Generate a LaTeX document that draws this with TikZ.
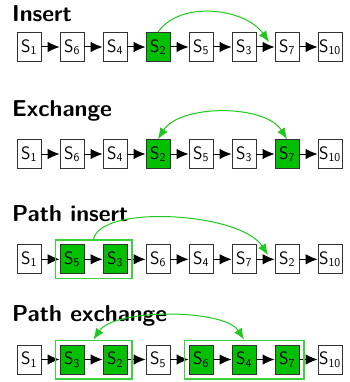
\documentclass[tikz,border=0pt]{standalone}
\usetikzlibrary{arrows.meta,fit}
\definecolor{selgreen}{RGB}{0,192,0}
\definecolor{framegreen}{RGB}{60,210,60}
\definecolor{arcgreen}{RGB}{30,200,30}
\definecolor{boxgray}{RGB}{50,50,50}
\begin{document}
\begin{tikzpicture}[x=1pt,y=1pt,
 sbox/.style={draw=boxgray, line width=0.8pt, minimum width=24pt, minimum height=29pt, inner sep=0pt, fill=white, font=\sffamily\fontsize{18}{18}\selectfont},
 sel/.style={sbox, fill=selgreen},
 link/.style={-{Latex[length=12pt,width=10.5pt]}, line width=1pt, black},
 move/.style={-{Latex[length=11pt,width=9pt]}, line width=1pt, arcgreen},
 swap/.style={{Latex[length=11pt,width=9pt]}-{Latex[length=11pt,width=9pt]}, line width=1pt, arcgreen},
 grp/.style={draw=framegreen, line width=1.2pt, inner sep=4.5pt},
 rowtitle/.style={anchor=base west, inner sep=0pt, font=\sffamily\bfseries\fontsize{23}{23}\selectfont}]
\useasboundingbox (0,0) rectangle (349,-382);

% titles
\node[rowtitle] (t1title) at (12,-21.7) {Insert};
\node[rowtitle] (t2title) at (12,-116.7) {Exchange};
\node[rowtitle] (t3title) at (12,-221.5) {Path insert};
\node[rowtitle] (t4title) at (12,-321.7) {Path exchange};

% row 1
\foreach \lab/\sty [count=\i from 0] in {1/sbox,6/sbox,4/sbox,2/sel,5/sbox,3/sbox,7/sbox,10/sbox}
  \node[\sty] (a\i) at (29+43*\i,-47) {S$_{\mathsf{\lab}}$};
% row 2
\foreach \lab/\sty [count=\i from 0] in {1/sbox,6/sbox,4/sbox,2/sel,5/sbox,3/sbox,7/sel,10/sbox}
  \node[\sty] (b\i) at (29+43*\i,-154) {S$_{\mathsf{\lab}}$};
% row 3
\foreach \lab/\sty [count=\i from 0] in {1/sbox,5/sel,3/sel,6/sbox,4/sbox,7/sbox,2/sbox,10/sbox}
  \node[\sty] (c\i) at (29+43*\i,-259.3) {S$_{\mathsf{\lab}}$};
% row 4
\foreach \lab/\sty [count=\i from 0] in {1/sbox,3/sel,2/sel,5/sbox,6/sel,4/sel,7/sel,10/sbox}
  \node[\sty] (d\i) at (29+43*\i,-359.5) {S$_{\mathsf{\lab}}$};

% chain links
\foreach \r in {a,b,c,d}{
  \foreach \p/\q in {0/1,1/2,2/3,3/4,4/5,5/6,6/7}{
    \draw[link] (\r\p.east) -- (\r\q.west);
  }
}

% frames
\node[grp, fit=(c1)(c2)] (f3) {};
\node[grp, fit=(d1)(d2)] (f4a) {};
\node[grp, fit=(d4)(d5)(d6)] (f4b) {};

% moves
\coordinate (tip1) at (269,-42);
\coordinate (tip3) at (268,-255);
\draw[move] (a3.north) .. controls +(22,32) and +(-24,34) .. (tip1);
\draw[swap] (b3.north) .. controls +(22,35) and +(-22,35) .. (b6.north);
\draw[move] (f3.north) .. controls +(7,35) and +(-28,43) .. (tip3);
\draw[swap] (f4a.north) .. controls +(21,31) and +(-20,31) .. (f4b.north);
\end{tikzpicture}
\end{document}
